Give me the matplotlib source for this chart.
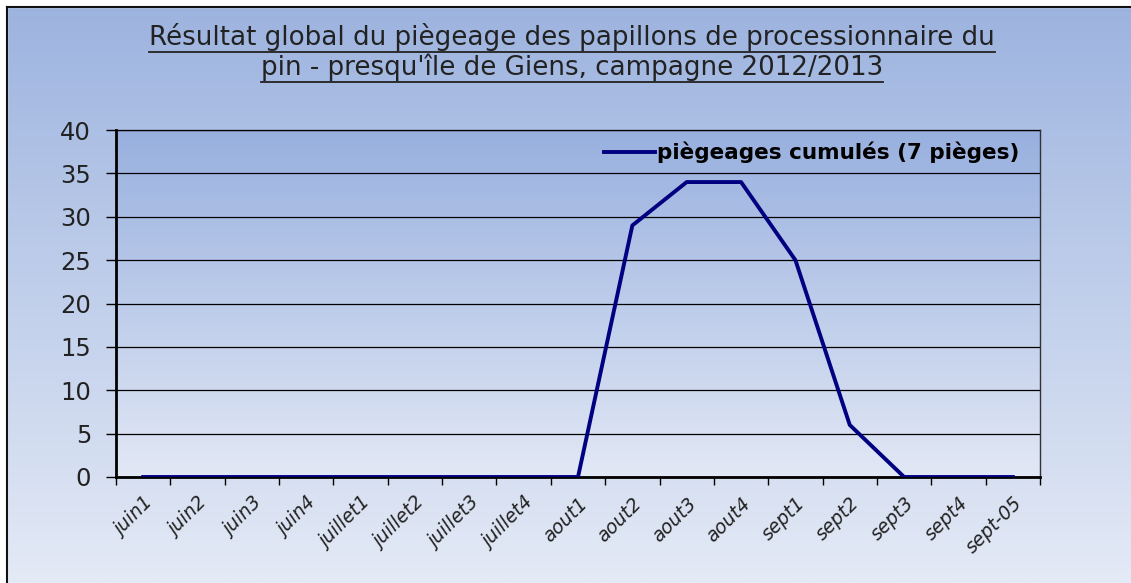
import numpy as np
import matplotlib
matplotlib.use("Agg")
from matplotlib import pyplot as plt
from matplotlib.colors import LinearSegmentedColormap
from matplotlib.lines import Line2D

# categories (weeks) and cumulated catches
weeks = ["juin1", "juin2", "juin3", "juin4",
         "juillet1", "juillet2", "juillet3", "juillet4",
         "aout1", "aout2", "aout3", "aout4",
         "sept1", "sept2", "sept3", "sept4", "sept-05"]
catches = [0, 0, 0, 0, 0, 0, 0, 0, 0, 29, 34, 34, 25, 6, 0, 0, 0]
series_label = "piègeages cumulés (7 pièges)"
title_lines = ["Résultat global du piègeage des papillons de processionnaire du",
               "pin - presqu'île de Giens, campagne 2012/2013"]

plt.rcParams["font.family"] = "DejaVu Sans"

W, H = 1131, 583
fig = plt.figure(figsize=(W / 100, H / 100), dpi=100)

# background gradient of the whole chart
bg = fig.add_axes([0, 0, 1, 1], zorder=-10)
bg_cmap = LinearSegmentedColormap.from_list("bg", ["#9cb3df", "#e4eaf6"])
bg.imshow(np.linspace(0, 1, 256).reshape(-1, 1), aspect="auto", cmap=bg_cmap,
          extent=[0, 1, 0, 1], origin="upper")
bg.set_xlim(0, 1)
bg.set_ylim(0, 1)
bg.axis("off")
# outer border (top and left visible)
bx0, by1 = 7 / W, 1 - 7 / H
bg.fill_between([0, bx0], 0, 1, color="white")
bg.fill_between([0, 1], by1, 1, color="white")
bg.plot([bx0, bx0], [0, by1], color="#111111", lw=1.5)
bg.plot([bx0, 1], [by1, by1], color="#111111", lw=1.5)

# plot area
ax = fig.add_axes([116 / W, 1 - 477 / H, (1040 - 116) / W, (477 - 130) / H])
pa_cmap = LinearSegmentedColormap.from_list("pa", ["#98b0df", "#e2e8f5"])
ax.imshow(np.linspace(0, 1, 256).reshape(-1, 1), aspect="auto", cmap=pa_cmap,
          extent=[0, 1, 0, 1], origin="upper", transform=ax.transAxes, zorder=0)

x = np.arange(len(weeks))
ax.plot(x, catches, color="#000080", lw=2.8, zorder=3, label=series_label)

ax.set_xlim(-0.5, len(weeks) - 0.5)
ax.set_ylim(0, 40)
ax.set_yticks(np.arange(0, 41, 5))
ax.tick_params(axis="y", labelsize=17.5, length=7, width=1, direction="out", pad=11,
               labelcolor="#222222")
ax.set_xticks(x)
ax.set_xticks(np.arange(-0.5, len(weeks)), minor=True)
ax.tick_params(axis="x", which="major", length=0, pad=12)
ax.tick_params(axis="x", which="minor", length=6, width=1, direction="out")
ax.set_xticklabels(weeks, rotation=45, ha="right", va="top", rotation_mode="anchor",
                   fontsize=13.5, fontstyle="italic", color="#222222")
for lab in ax.get_xticklabels():
    lab.set_x(lab.get_position()[0] + 0.08)

ax.yaxis.grid(True, color="black", lw=0.9)
ax.set_axisbelow(False)
ax.spines["left"].set_linewidth(2)
ax.spines["bottom"].set_linewidth(2)
for s in ["top", "right"]:
    ax.spines[s].set_color("#333333")
    ax.spines[s].set_linewidth(1)

ax.legend(loc="upper right", bbox_to_anchor=(0.99, 1.0), frameon=False,
          prop={"weight": "bold", "size": 15.5}, handlelength=2.4,
          handletextpad=0.05, borderaxespad=0.15)

# title, two underlined lines
tys = [1 - 37 / H, 1 - 67 / H]
texts = [fig.text(572 / W, ty, t, ha="center", va="center", fontsize=18.8,
                  color="#222222") for ty, t in zip(tys, title_lines)]
fig.canvas.draw()
r = fig.canvas.get_renderer()
for t in texts:
    bb = t.get_window_extent(r)
    yy = (bb.y0 - 1) / H
    fig.add_artist(Line2D([bb.x0 / W, bb.x1 / W], [yy, yy], color="#222222", lw=1.3))

fig.savefig("out.png", dpi=100)
